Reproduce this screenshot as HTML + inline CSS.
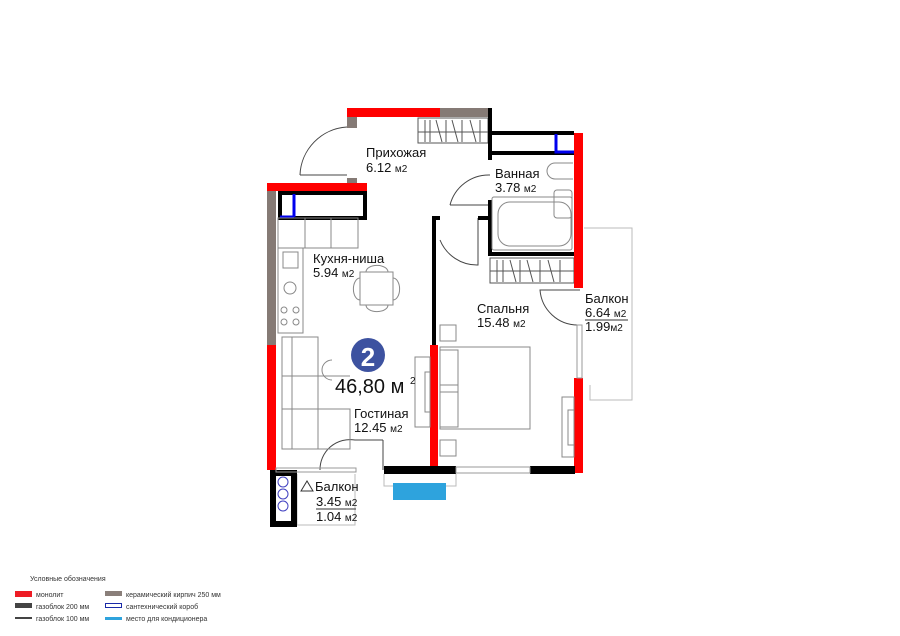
<!DOCTYPE html>
<html><head><meta charset="utf-8"><style>
html,body{margin:0;padding:0;background:#fff;}
svg{display:block;font-family:"Liberation Sans",sans-serif;}
</style></head><body>
<svg width="900" height="636" viewBox="0 0 900 636" xmlns="http://www.w3.org/2000/svg">
<g fill="none" stroke="#bbb" stroke-width="1">
 <!-- right balcony outline -->
 <path d="M584 228 H632 V400 H590 V385"/>
 <!-- bottom balcony outline -->
 <path d="M297 474 V525 H355 V474"/>
 <path d="M384 474 V486 H456 V474"/>
 <path d="M355 478 V525"/>
</g>
<!-- entrance door -->
<g fill="none" stroke="#444" stroke-width="1">
 <path d="M347 127 A50 50 0 0 0 300 175"/>
 <line x1="300" y1="175" x2="347" y2="175"/>
 <path d="M490 175 A40 40 0 0 0 450 205"/>
 <line x1="450" y1="205" x2="490" y2="205"/>
 <path d="M478 218 V265 A40 40 0 0 1 440 240"/>
 <path d="M580 290 H540 A38 38 0 0 0 578 325"/>
 <path d="M383 440 H355 A30 30 0 0 0 320 470"/>
 <path d="M383 440 V470"/>
</g>
<!-- hallway wardrobe -->
<g stroke="#555" stroke-width="1" fill="none">
 <rect x="418" y="118" width="70" height="25"/>
 <line x1="418" y1="132" x2="488" y2="132"/>
 <path d="M425 120v22M430 120v22M436 120l6 22M446 120v22M452 120l6 22M462 120v22M470 120l6 22M480 120v22"/>
 <rect x="490" y="258" width="84" height="25"/>
 <line x1="490" y1="271" x2="574" y2="271"/>
 <path d="M497 260v22M503 260v22M510 260l6 22M520 260v22M527 260l6 22M540 260v22M548 260l6 22M560 260v22"/>
</g>
<!-- walls -->
<g fill="#ff0000">
 <rect x="347" y="108" width="93" height="9"/>
 <rect x="267" y="183" width="100" height="8"/>
 <rect x="267" y="345" width="9" height="125"/>
 <rect x="574" y="133" width="9" height="155"/>
 <rect x="574" y="378" width="9" height="95"/>
 <rect x="430" y="345" width="8" height="128"/>
</g>
<g fill="#857a75">
 <rect x="440" y="108" width="50" height="9"/>
 <rect x="347" y="117" width="10" height="11"/>
 <rect x="347" y="178" width="10" height="5"/>
 <rect x="267" y="191" width="9" height="154"/>
</g>
<g fill="none" stroke="#000" stroke-width="4">
 <rect x="280" y="193" width="85" height="25"/>
 <path d="M490 108 V160 M490 133 H574 M490 153 H574"/>
 <path d="M490 200 V254 H574 M478 218 H490"/>
 <path d="M434 345 V218 H440"/>
</g>
<g fill="#000">
 <rect x="384" y="466" width="72" height="8"/>
 <rect x="530" y="466" width="45" height="8"/>
 <rect x="270" y="470" width="27" height="57"/>
 <rect x="276" y="476" width="15" height="45" fill="#fff"/>
</g>
<g fill="none" stroke="#0000ee" stroke-width="3">
 <path d="M294 194 V217 M280 217 H294"/>
 <path d="M556 134 V152 H574"/>
</g>
<rect x="393" y="483" width="53" height="17" fill="#2ea3dd"/>
<!-- windows -->
<g fill="none" stroke="#999" stroke-width="1">
 <rect x="456" y="467" width="74" height="6"/>
 <rect x="577" y="325" width="5" height="53"/>
 <rect x="276" y="468" width="80" height="4"/>
</g>
<!-- circles in riser -->
<g fill="none" stroke="#4040c0"><circle cx="283" cy="482" r="5"/><circle cx="283" cy="494" r="5"/><circle cx="283" cy="506" r="5"/></g>
<!-- furniture -->
<g fill="none" stroke="#888" stroke-width="1">
 <rect x="278" y="218" width="53" height="30"/><line x1="305" y1="218" x2="305" y2="248"/>
 <rect x="331" y="218" width="27" height="30"/>
 <rect x="278" y="248" width="25" height="85"/>
 <rect x="283" y="252" width="15" height="16"/>
 <circle cx="290" cy="288" r="6"/>
 <circle cx="284" cy="310" r="3"/><circle cx="296" cy="310" r="3"/><circle cx="284" cy="322" r="3"/><circle cx="296" cy="322" r="3"/>
 <rect x="360" y="272" width="33" height="33"/>
 <path d="M366 272 a10 6 0 0 1 22 0 M366 305 a10 6 0 0 0 22 0 M360 278 a6 10 0 0 0 0 22 M393 278 a6 10 0 0 1 0 22"/>
 <rect x="282" y="337" width="36" height="112"/>
 <rect x="282" y="337" width="10" height="112"/>
 <line x1="282" y1="376" x2="350" y2="376"/><line x1="282" y1="409" x2="350" y2="409"/>
 <rect x="318" y="409" width="32" height="40"/>
 <path d="M332 380 a10 10 0 0 1 0-20"/>
 <rect x="415" y="357" width="15" height="70"/><rect x="425" y="372" width="5" height="40"/>
 <rect x="440" y="325" width="16" height="16"/><rect x="440" y="440" width="16" height="16"/>
 <rect x="440" y="347" width="90" height="82"/>
 <rect x="440" y="350" width="18" height="35"/><rect x="440" y="392" width="18" height="35"/>
 <line x1="458" y1="352" x2="458" y2="427"/>
 <rect x="562" y="397" width="12" height="60"/><rect x="568" y="410" width="6" height="35"/>
 <rect x="492" y="197" width="80" height="53" rx="2"/><rect x="498" y="202" width="73" height="44" rx="12"/>
 <rect x="554" y="190" width="18" height="28" rx="3"/>
 <path d="M573 163 H555 a8 8 0 0 0 0 16 H573"/>
</g>
<circle cx="368" cy="355" r="17" fill="#3d52a0"/>
<text x="368" y="366" font-size="26" font-weight="bold" fill="#fff" text-anchor="middle">2</text>
<g fill="#111" font-size="13">
 <text x="366" y="157">Прихожая</text>
 <text x="366" y="172">6.12 <tspan font-size="10">м2</tspan></text>
 <text x="495" y="178">Ванная</text>
 <text x="495" y="192">3.78 <tspan font-size="10">м2</tspan></text>
 <text x="313" y="263">Кухня-ниша</text>
 <text x="313" y="277">5.94 <tspan font-size="10">м2</tspan></text>
 <text x="477" y="313">Спальня</text>
 <text x="477" y="327">15.48 <tspan font-size="10">м2</tspan></text>
 <text x="585" y="303">Балкон</text>
 <text x="585" y="317">6.64 <tspan font-size="10">м2</tspan></text>
 <text x="585" y="331">1.99<tspan font-size="10">м2</tspan></text>
 <text x="354" y="418">Гостиная</text>
 <text x="354" y="432">12.45 <tspan font-size="10">м2</tspan></text>
 <text x="315" y="491">Балкон</text>
 <text x="316" y="506">3.45 <tspan font-size="10">м2</tspan></text>
 <text x="316" y="521">1.04 <tspan font-size="10">м2</tspan></text>
 <text x="335" y="393" font-size="20">46,80 м</text><text x="410" y="384" font-size="10">2</text>
</g>
<line x1="585" y1="320" x2="628" y2="320" stroke="#333"/>
<line x1="316" y1="509" x2="356" y2="509" stroke="#333"/>
<path d="M301 491 L307 481 L313 491 Z" fill="none" stroke="#333"/>
<!-- legend -->
<g font-size="7" fill="#333">
 <text x="30" y="581">Условные обозначения</text>
 <rect x="15" y="591" width="17" height="6" fill="#ee1c25"/><text x="36" y="597">монолит</text>
 <rect x="15" y="603" width="17" height="5" fill="#444"/><text x="36" y="609">газоблок 200 мм</text>
 <rect x="15" y="617" width="17" height="2" fill="#444"/><text x="36" y="621">газоблок 100 мм</text>
 <rect x="105" y="591" width="17" height="5" fill="#8a7f7a"/><text x="126" y="597">керамический кирпич 250 мм</text>
 <rect x="105.5" y="603.5" width="16" height="4" fill="none" stroke="#1a2aa8"/><text x="126" y="609">сантехнический короб</text>
 <rect x="105" y="617" width="17" height="3" fill="#2ea3dd"/><text x="126" y="621">место для кондиционера</text>
</g>
</svg>
</body></html>
